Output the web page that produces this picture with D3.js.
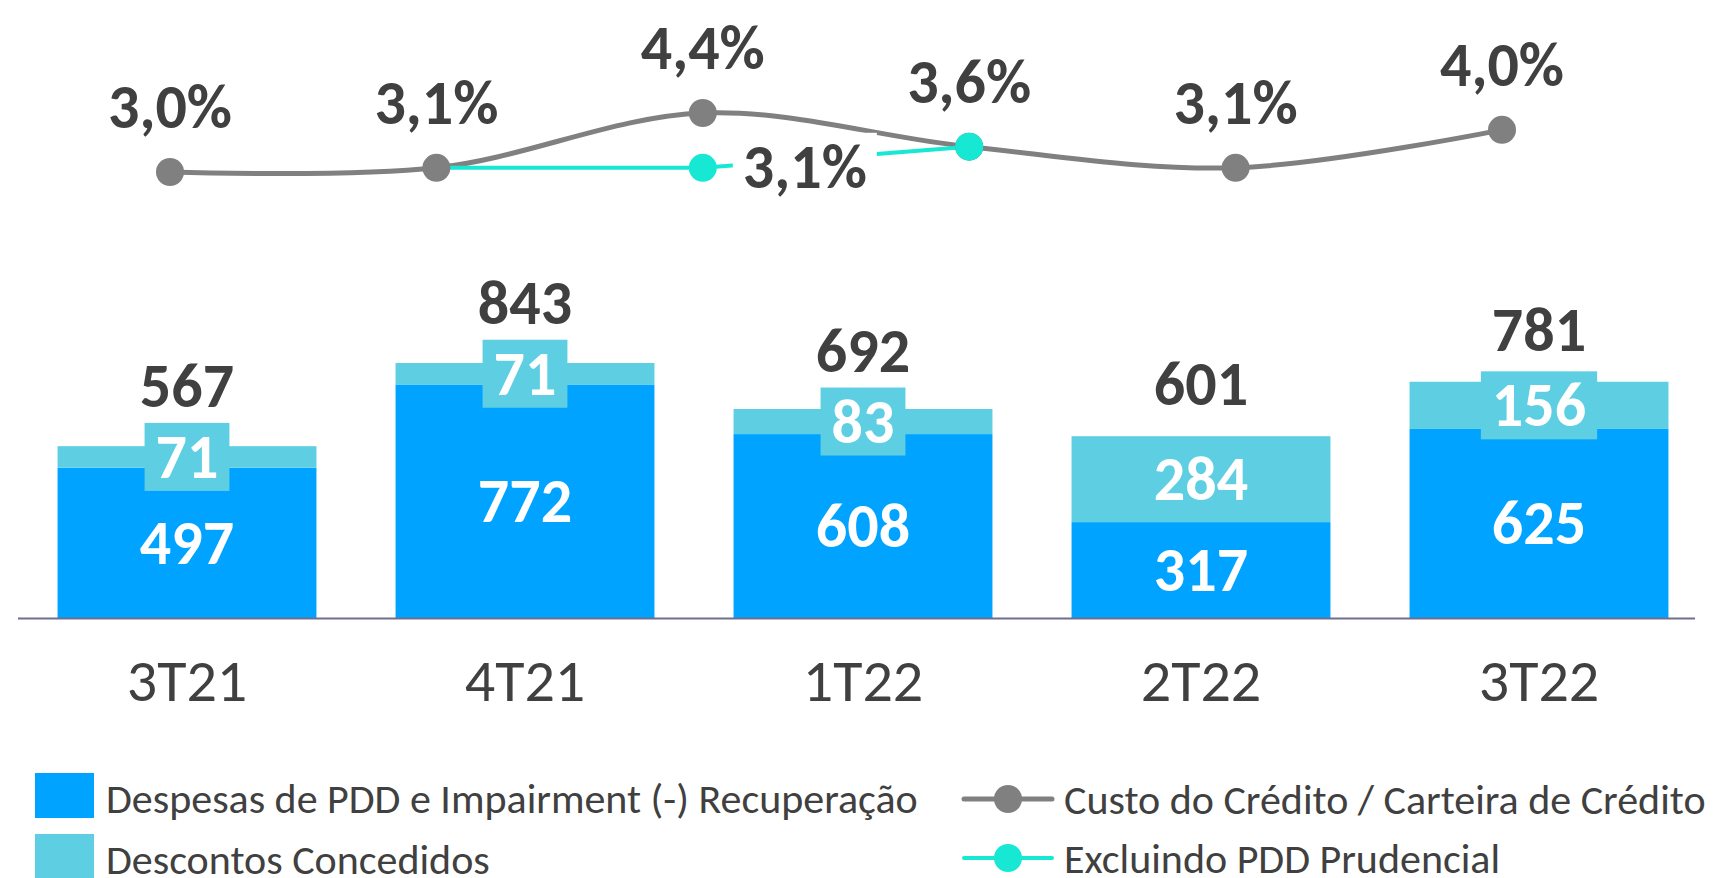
<!DOCTYPE html>
<html>
<head>
<meta charset="utf-8">
<script src="https://cdn.jsdelivr.net/npm/d3@7/dist/d3.min.js"></script>
<style>
  html, body { margin: 0; padding: 0; background: #fff; }
  svg { display: block; }
  text { font-family: Carlito, Lato, "Open Sans", sans-serif; }
</style>
</head>
<body>
<svg id="chart" width="1720" height="878"></svg>
<script>
// Quarterly credit cost breakdown (R$ milhões)
const quarters = ["3T21", "4T21", "1T22", "2T22", "3T22"];
const despesasPDD = [497, 772, 608, 317, 625];
const descontos = [71, 71, 83, 284, 156];
const totals = [567, 843, 692, 601, 781];

// Credit cost ratio series (%), six positions across the top
const ratioSlots = ["a", "b", "c", "d", "e", "f"];
const custoCredito = [3.0, 3.1, 4.4, 3.6, 3.1, 4.0];
const excluindoPrudencial = [null, 3.1, 3.1, 3.6, null, null];

const legendBars = ["Despesas de PDD e Impairment (-) Recuperação", "Descontos Concedidos"];
const legendLines = ["Custo do Crédito / Carteira de Crédito", "Excluindo PDD Prudencial"];

const C = {
  dark: "#00A3FF",
  light: "#5ECFE2",
  grey: "#808080",
  teal: "#17E8D4",
  text: "#404040",
  axis: "#6E6E8E"
};

const svg = d3.select("#chart");
const fmtPct = v => d3.format(".1f")(v).replace(".", ",") + "%";

// ---- bars ----
const x = d3.scaleBand().domain(quarters).range([18, 1708]).paddingInner(0.234).paddingOuter(0.117);
const y = d3.scaleLinear().domain([0, 843]).range([618, 363]);

const rows = quarters.map((q, i) => ({ q, a: despesasPDD[i], b: descontos[i], t: totals[i] }));

const g = svg.append("g");

g.selectAll("rect.dark").data(rows).join("rect")
  .attr("x", d => x(d.q)).attr("width", x.bandwidth())
  .attr("y", d => y(d.a)).attr("height", d => y(0) - y(d.a))
  .attr("fill", C.dark);

g.selectAll("rect.light").data(rows).join("rect")
  .attr("x", d => x(d.q)).attr("width", x.bandwidth())
  .attr("y", d => y(d.a + d.b)).attr("height", d => y(d.a) - y(d.a + d.b))
  .attr("fill", C.light);

const valSize = 62;
const boxH = 68;

// labels inside the dark segment
g.selectAll("text.va").data(rows).join("text")
  .attr("x", d => x(d.q) + x.bandwidth() / 2)
  .attr("y", d => (y(0) + y(d.a)) / 2 + 21)
  .attr("text-anchor", "middle")
  .attr("font-size", valSize).attr("font-weight", 700)
  .attr("fill", "#fff")
  .text(d => d.a);

// labels of the discount segment with a matching background tag
rows.forEach(d => {
  const cx = x(d.q) + x.bandwidth() / 2;
  const cy = (y(d.a) + y(d.a + d.b)) / 2;
  const lg = g.append("g");
  const box = lg.append("rect").attr("fill", C.light);
  const t = lg.append("text")
    .attr("x", cx).attr("y", cy + 21)
    .attr("text-anchor", "middle")
    .attr("font-size", valSize).attr("font-weight", 700)
    .attr("fill", "#fff")
    .text(d.b);
  const w = t.node().getComputedTextLength() + 22;
  box.attr("x", cx - w / 2).attr("width", w).attr("y", cy - boxH / 2).attr("height", boxH);
  d.boxTop = cy - boxH / 2;
});

// totals above each stack
g.selectAll("text.tot").data(rows).join("text")
  .attr("x", d => x(d.q) + x.bandwidth() / 2)
  .attr("y", d => Math.min(y(d.t) - 15, d.boxTop) - 16)
  .attr("text-anchor", "middle")
  .attr("font-size", valSize).attr("font-weight", 700)
  .attr("fill", C.text)
  .text(d => d.t);

// baseline and category labels
svg.append("line").attr("x1", 18).attr("x2", 1695).attr("y1", 618.5).attr("y2", 618.5)
  .attr("stroke", C.axis).attr("stroke-width", 2);

const xAxis = svg.append("g").attr("transform", "translate(0,618)")
  .call(d3.axisBottom(x).tickSize(0).tickPadding(83));
xAxis.select(".domain").remove();
xAxis.selectAll("text").attr("font-size", 60).attr("fill", C.text)
  .attr("font-family", "Carlito, Lato, sans-serif").attr("dy", 0);

// ---- ratio lines ----
const xp = d3.scalePoint().domain(ratioSlots).range([170, 1502]);
const yp = d3.scaleLinear().domain([3.0, 4.4]).range([172, 113]);

const greyPts = ratioSlots.map((s, i) => ({ s, v: custoCredito[i], i }));
const tealPts = ratioSlots.map((s, i) => ({ s, v: excluindoPrudencial[i], i })).filter(d => d.v != null);

svg.append("path").datum(greyPts)
  .attr("d", d3.line().x(d => xp(d.s)).y(d => yp(d.v)).curve(d3.curveCatmullRom.alpha(0.5)))
  .attr("fill", "none").attr("stroke", C.grey).attr("stroke-width", 5);

svg.append("path").datum(tealPts)
  .attr("d", d3.line().x(d => xp(d.s)).y(d => yp(d.v)))
  .attr("fill", "none").attr("stroke", C.teal).attr("stroke-width", 4);

svg.selectAll("circle.grey").data(greyPts).join("circle")
  .attr("cx", d => xp(d.s)).attr("cy", d => yp(d.v)).attr("r", 14)
  .attr("fill", C.grey);

// the teal series branches from the grey marker; its own markers follow
svg.selectAll("circle.teal").data(tealPts.slice(1)).join("circle")
  .attr("cx", d => xp(d.s)).attr("cy", d => yp(d.v)).attr("r", 14)
  .attr("fill", C.teal);

svg.selectAll("text.pct").data(greyPts).join("text")
  .attr("x", d => xp(d.s)).attr("y", d => yp(d.v) - 44)
  .attr("text-anchor", "middle")
  .attr("font-size", valSize).attr("font-weight", 700)
  .attr("fill", C.text)
  .text(d => fmtPct(d.v));

// label for the teal point, on a white tag over the lines
const tl = tealPts[1];
const tg = svg.append("g");
const tbox = tg.append("rect").attr("fill", "#fff");
const tt = tg.append("text")
  .attr("x", xp(tl.s) + 40).attr("y", yp(tl.v) + 20)
  .attr("font-size", valSize).attr("font-weight", 700)
  .attr("fill", C.text)
  .text(fmtPct(tl.v));
const tw = tt.node().getComputedTextLength();
tbox.attr("x", xp(tl.s) + 30).attr("width", tw + 20).attr("y", yp(tl.v) - 35).attr("height", 64);

// ---- legend ----
const leg = svg.append("g");
legendBars.forEach((name, i) => {
  const yy = 773 + i * 61;
  leg.append("rect").attr("x", 35).attr("y", yy).attr("width", 59).attr("height", 45)
    .attr("fill", i === 0 ? C.dark : C.light);
  leg.append("text").attr("x", 106).attr("y", yy + 40)
    .attr("font-size", 42).attr("fill", C.text).text(name);
});
legendLines.forEach((name, i) => {
  const yy = 799 + i * 59;
  const col = i === 0 ? C.grey : C.teal;
  leg.append("line").attr("x1", 964).attr("x2", 1052).attr("y1", yy).attr("y2", yy)
    .attr("stroke", col).attr("stroke-width", i === 0 ? 5 : 4).attr("stroke-linecap", "round");
  leg.append("circle").attr("cx", 1008).attr("cy", yy).attr("r", 14).attr("fill", col);
  leg.append("text").attr("x", 1064).attr("y", yy + 15)
    .attr("font-size", 42).attr("fill", C.text).text(name);
});
</script>
</body>
</html>
